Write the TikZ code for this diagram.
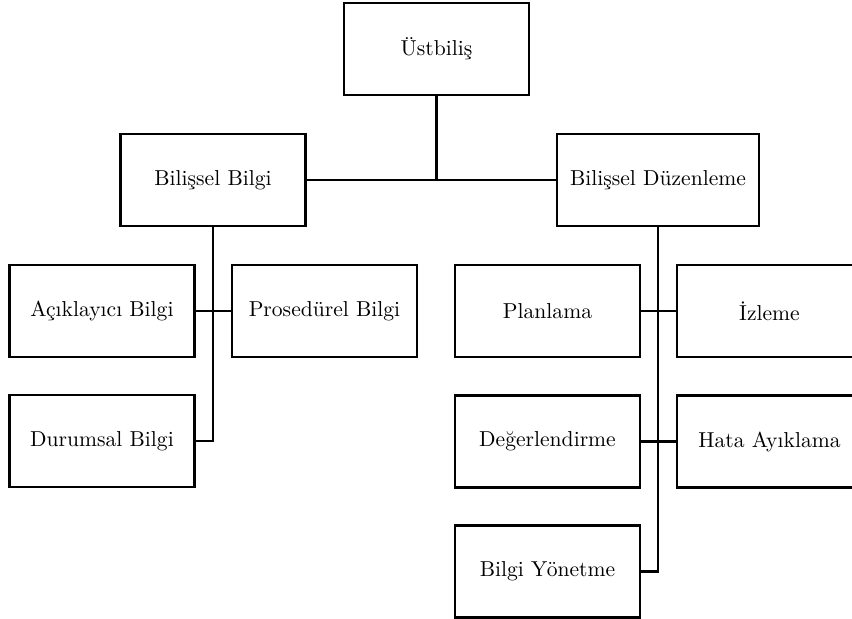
\documentclass[tikz,border=0pt]{standalone}
\usepackage{tikz}
\usetikzlibrary{positioning, calc}

\begin{document}
\begin{tikzpicture}[x=0.5pt, y=-0.5pt, line width=1.2pt,
  kutu/.style={draw, rectangle, minimum width=92.5pt, minimum height=46pt, inner sep=0pt, font=\fontsize{10.8}{12}\selectfont},
  genis/.style={kutu, minimum width=101pt}]
  \clip (0,0) rectangle (852,619);
  % ust seviye
  \node[kutu] (ust) at (436.5,49) {Üstbiliş};
  \node[kutu] (bb) at (213,180) {Bilişsel Bilgi};
  \node[genis] (bd) at (658,180) {Bilişsel Düzenleme};
  % bilissel bilgi alt kutulari
  \node[kutu] (ack) at (102,311) {Açıklayıcı Bilgi};
  \node[kutu] (pro) at (324.5,311) {Prosedürel Bilgi};
  \node[kutu] (dur) at (102,441) {Durumsal Bilgi};
  % bilissel duzenleme alt kutulari
  \node[kutu] (plan) at (547.5,311) {Planlama};
  \node[kutu] (izl) at (769.5,311) {İzleme};
  \node[kutu] (deg) at (547.5,441.5) {Değerlendirme};
  \node[kutu] (hata) at (769.5,441.5) {Hata Ayıklama};
  \node[kutu] (bily) at (547.5,571.5) {Bilgi Yönetme};
  % baglantilar
  \draw (bb.east) -- (bd.west);
  \draw (ust.south) -- (ust.south |- bb.east);
  \draw (bb.south) -- (bb.south |- dur.east) -- (dur.east);
  \draw (ack.east) -- (pro.west);
  \draw (bd.south) -- (bd.south |- bily.east) -- (bily.east);
  \draw (plan.east) -- (izl.west);
  \draw (deg.east) -- (hata.west);
\end{tikzpicture}
\end{document}
